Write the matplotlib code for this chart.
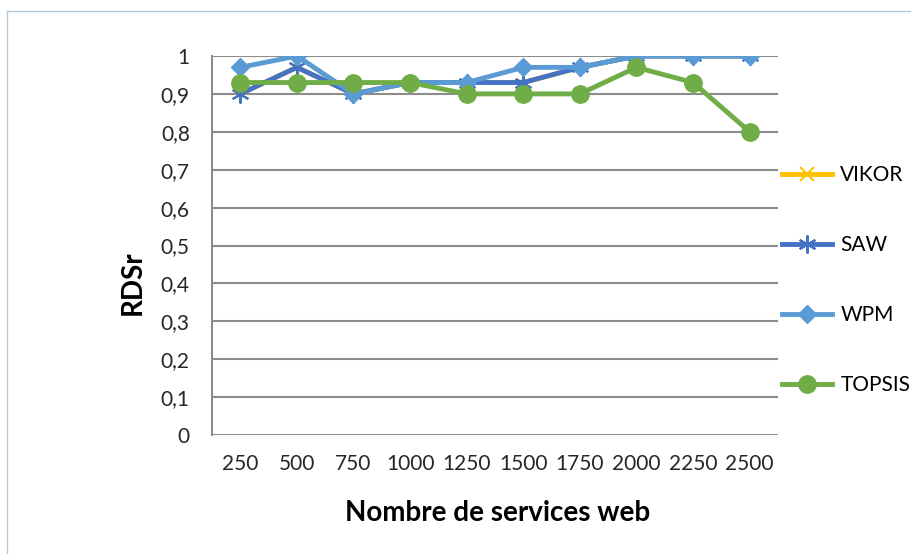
import numpy as np
import matplotlib.pyplot as plt
from matplotlib.lines import Line2D
from matplotlib.ticker import FixedLocator

plt.rcParams['font.family'] = ['Lato', 'DejaVu Sans']

# data
services = ['250', '500', '750', '1000', '1250', '1500', '1750', '2000', '2250', '2500']
vikor = [0.90, 0.97, 0.90, 0.93, 0.93, 0.93, 0.97, 1.00, 1.00, 1.00]
saw = [0.90, 0.97, 0.90, 0.93, 0.93, 0.93, 0.97, 1.00, 1.00, 1.00]
wpm = [0.97, 1.00, 0.90, 0.93, 0.93, 0.97, 0.97, 1.00, 1.00, 1.00]
topsis = [0.93, 0.93, 0.93, 0.93, 0.90, 0.90, 0.90, 0.97, 0.93, 0.80]

fig = plt.figure(figsize=(9.12, 5.54), dpi=100)
ax = fig.add_axes([212 / 912, 1 - 435 / 554, (778 - 212) / 912, (435 - 56) / 554])

x = np.arange(len(services))
# VIKOR lies under SAW in the chart, keep its markers small so they stay hidden
ax.plot(x, vikor, color='#FFC000', lw=3.5, marker='x', ms=5, mew=1.5, label='VIKOR')
ax.plot(x, saw, color='#4472C4', lw=3.5, marker=(6, 2, 0), ms=13, mew=1.5, label='SAW')
ax.plot(x, wpm, color='#5B9BD5', lw=3.5, marker='D', ms=9, label='WPM')
ax.plot(x, topsis, color='#70AD47', lw=3.5, marker='o', ms=12.5, label='TOPSIS')

ax.set_xlim(-0.5, len(services) - 0.5)
ax.set_ylim(0, 1)
ax.set_xticks(x)
ax.set_xticklabels(services)
yt = np.round(np.arange(0, 1.01, 0.1), 1)
ax.yaxis.set_major_locator(FixedLocator(yt))
ax.set_yticklabels(['0' if v == 0 else '1' if v == 1 else f'{v:.1f}'.replace('.', ',') for v in yt])
ax.tick_params(axis='both', length=0, labelsize=15, colors='#262626')
ax.tick_params(axis='x', pad=14)
ax.tick_params(axis='y', pad=16)
ax.grid(axis='y', color='#8c8c8c', lw=1.5)
ax.set_axisbelow(True)
for s in ['top', 'right', 'bottom']:
    ax.spines[s].set_visible(False)
ax.spines['left'].set_color('#8c8c8c')
ax.spines['left'].set_linewidth(1.5)

ax.set_xlabel('Nombre de services web', fontsize=20, fontweight='bold', va='center')
ax.xaxis.set_label_coords(0.505, (435 - 513) / 379)
ax.set_ylabel('RDSr', fontsize=20, fontweight='bold', va='center')
ax.yaxis.set_label_coords((133 - 212) / 566, (435 - 283) / 379)

leg = fig.legend(loc='center left', bbox_to_anchor=(782 / 912, 1 - 280 / 554),
                 frameon=False, fontsize=15, labelspacing=2.4,
                 handlelength=2.4, handletextpad=0.4, borderpad=0, borderaxespad=0)
leg.legend_handles[0].set_markersize(10)

# outer chart border (top and left visible)
fig.add_artist(Line2D([7 / 912, 1], [1 - 11 / 554] * 2, color='#b4c7dc', lw=1))
fig.add_artist(Line2D([7 / 912] * 2, [0, 1 - 11 / 554], color='#b4c7dc', lw=1))

fig.savefig('out.png', dpi=100)
